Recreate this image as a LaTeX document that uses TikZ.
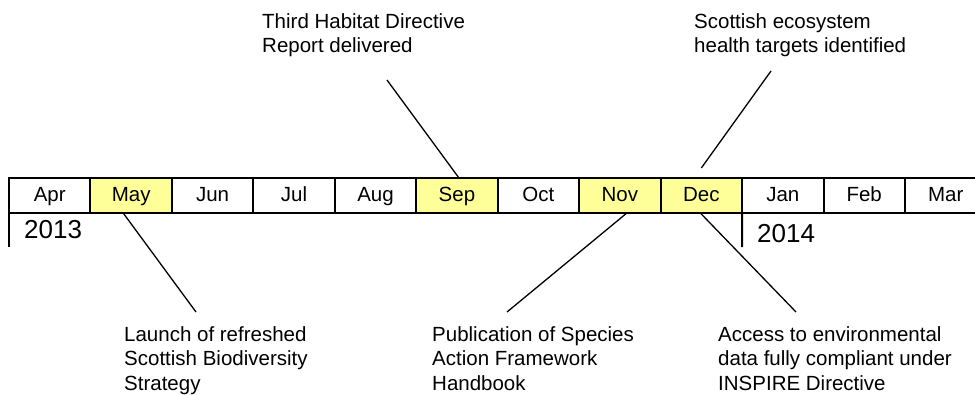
\documentclass[tikz,border=0pt]{standalone}
\usepackage{fontspec}
\setmainfont{Liberation Sans}
\usetikzlibrary{positioning}

\definecolor{hilite}{RGB}{255,255,153}

\tikzset{
  month/.style={draw, line width=2pt, minimum width=81.45pt, minimum height=35pt,
    inner sep=0pt, outer sep=0pt, text height=15.5pt, text depth=3.5pt,
    font=\fontsize{20.5}{24.5}\selectfont},
  marked/.style={month, fill=hilite},
  event/.style={align=left, inner sep=0pt, anchor=base west,
    font=\fontsize{20.5}{24.5}\selectfont},
  year/.style={inner sep=0pt, anchor=base west, font=\fontsize{26}{30}\selectfont},
  leader/.style={line width=1.3pt}
}

\begin{document}
\begin{tikzpicture}[x=1pt,y=-1pt]
		\useasboundingbox (0,0) rectangle (975,394);
		
		%Months of the year
		\node[month, anchor=north west] (apr) at (9,178) {Apr};
		\node[marked, right=0pt of apr] (may) {May};
		\node[month, right=0pt of may] (jun) {Jun};
		\node[month, right=0pt of jun] (jul) {Jul};
		\node[month, right=0pt of jul] (aug) {Aug};
		\node[marked, right=0pt of aug] (sep) {Sep};
		\node[month, right=0pt of sep] (oct) {Oct};
		\node[marked, right=0pt of oct] (nov) {Nov};
		\node[marked, right=0pt of nov] (dec) {Dec};
		\node[month, right=0pt of dec] (jan) {Jan};
		\node[month, right=0pt of jan] (feb) {Feb};
		\node[month, right=0pt of feb] (mar) {Mar};
		
		%Year marks
		\coordinate (tick13) at (9,247);
		\coordinate (tick14) at (742.05,247);
		\draw[line width=2pt] (apr.south west) -- (tick13);
		\draw[line width=2pt] (jan.south west) -- (tick14);
		\node[year] (y13) at (24,238) {2013};
		\node[year] (y14) at (757,242) {2014};
		
		%Events (anchored on the last line)
		\node[event] (habitat) at (262,52.7) {Third Habitat Directive\\Report delivered};
		\node[event] (health) at (694,52.7) {Scottish ecosystem\\health targets identified};
		\node[event] (launch) at (124,390) {Launch of refreshed\\Scottish Biodiversity\\Strategy};
		\node[event] (species) at (432,390) {Publication of Species\\Action Framework\\Handbook};
		\node[event] (inspire) at (718,390) {Access to environmental\\data fully compliant under\\INSPIRE Directive};
		
		%Leader lines
		\coordinate (habitattip) at (387,80);
		\coordinate (healthtip) at (771,71);
		\coordinate (launchtip) at (196,312);
		\coordinate (speciestip) at (507,312);
		\coordinate (inspiretip) at (796,312);
		\draw[leader] ([xshift=2pt]sep.north) -- (habitattip);
		\draw[leader] ([yshift=10pt]dec.north) -- (healthtip);
		\draw[leader] ([xshift=-8pt]may.south) -- (launchtip);
		\draw[leader] ([xshift=7pt]nov.south) -- (speciestip);
		\draw[leader] ([xshift=-1pt]dec.south) -- (inspiretip);
	\end{tikzpicture}
\end{document}
